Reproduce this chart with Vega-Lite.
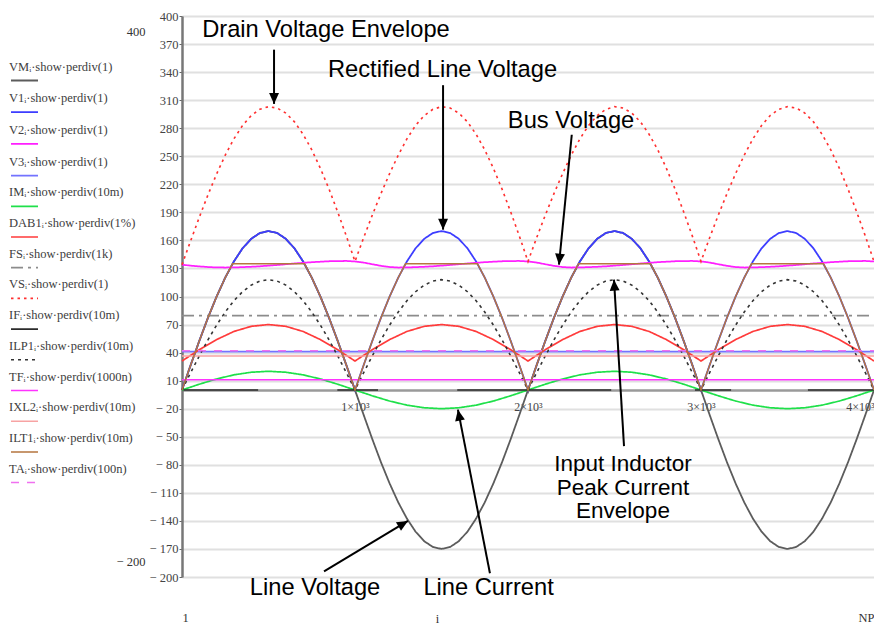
{
"$schema": "https://vega.github.io/schema/vega-lite/v6.json",
"width": 692, "height": 561,
"autosize": {"type": "none"},
"padding": {"left": 182, "top": 16, "right": 0, "bottom": 49},
"background": "white",
"config": {"view": {"stroke": null}},
"datasets": {
"curves": [
{"s":"VM","x":0,"y":0},{"s":"VM","x":50,"y":26.6},{"s":"VM","x":100,"y":52.5},{"s":"VM","x":150,"y":77.2},{"s":"VM","x":200,"y":99.9},{"s":"VM","x":250,"y":120.2},{"s":"VM","x":300,"y":137.5},{"s":"VM","x":350,"y":151.5},{"s":"VM","x":400,"y":161.7},{"s":"VM","x":450,"y":167.9},{"s":"VM","x":500,"y":170},{"s":"VM","x":550,"y":167.9},{"s":"VM","x":600,"y":161.7},{"s":"VM","x":650,"y":151.5},{"s":"VM","x":700,"y":137.5},{"s":"VM","x":750,"y":120.2},{"s":"VM","x":800,"y":99.9},{"s":"VM","x":850,"y":77.2},{"s":"VM","x":900,"y":52.5},{"s":"VM","x":950,"y":26.6},
{"s":"VM","x":1000,"y":0},{"s":"VM","x":1050,"y":-26.6},{"s":"VM","x":1100,"y":-52.5},{"s":"VM","x":1150,"y":-77.2},{"s":"VM","x":1200,"y":-99.9},{"s":"VM","x":1250,"y":-120.2},{"s":"VM","x":1300,"y":-137.5},{"s":"VM","x":1350,"y":-151.5},{"s":"VM","x":1400,"y":-161.7},{"s":"VM","x":1450,"y":-167.9},{"s":"VM","x":1500,"y":-170},{"s":"VM","x":1550,"y":-167.9},{"s":"VM","x":1600,"y":-161.7},{"s":"VM","x":1650,"y":-151.5},{"s":"VM","x":1700,"y":-137.5},{"s":"VM","x":1750,"y":-120.2},{"s":"VM","x":1800,"y":-99.9},{"s":"VM","x":1850,"y":-77.2},{"s":"VM","x":1900,"y":-52.5},{"s":"VM","x":1950,"y":-26.6},
{"s":"VM","x":2000,"y":0},{"s":"VM","x":2050,"y":26.6},{"s":"VM","x":2100,"y":52.5},{"s":"VM","x":2150,"y":77.2},{"s":"VM","x":2200,"y":99.9},{"s":"VM","x":2250,"y":120.2},{"s":"VM","x":2300,"y":137.5},{"s":"VM","x":2350,"y":151.5},{"s":"VM","x":2400,"y":161.7},{"s":"VM","x":2450,"y":167.9},{"s":"VM","x":2500,"y":170},{"s":"VM","x":2550,"y":167.9},{"s":"VM","x":2600,"y":161.7},{"s":"VM","x":2650,"y":151.5},{"s":"VM","x":2700,"y":137.5},{"s":"VM","x":2750,"y":120.2},{"s":"VM","x":2800,"y":99.9},{"s":"VM","x":2850,"y":77.2},{"s":"VM","x":2900,"y":52.5},{"s":"VM","x":2950,"y":26.6},
{"s":"VM","x":3000,"y":0},{"s":"VM","x":3050,"y":-26.6},{"s":"VM","x":3100,"y":-52.5},{"s":"VM","x":3150,"y":-77.2},{"s":"VM","x":3200,"y":-99.9},{"s":"VM","x":3250,"y":-120.2},{"s":"VM","x":3300,"y":-137.5},{"s":"VM","x":3350,"y":-151.5},{"s":"VM","x":3400,"y":-161.7},{"s":"VM","x":3450,"y":-167.9},{"s":"VM","x":3500,"y":-170},{"s":"VM","x":3550,"y":-167.9},{"s":"VM","x":3600,"y":-161.7},{"s":"VM","x":3650,"y":-151.5},{"s":"VM","x":3700,"y":-137.5},{"s":"VM","x":3750,"y":-120.2},{"s":"VM","x":3800,"y":-99.9},{"s":"VM","x":3850,"y":-77.2},{"s":"VM","x":3900,"y":-52.5},{"s":"VM","x":3950,"y":-26.6},{"s":"VM","x":4000,"y":0},

{"s":"V1","x":0,"y":0},{"s":"V1","x":50,"y":26.6},{"s":"V1","x":100,"y":52.5},{"s":"V1","x":150,"y":77.2},{"s":"V1","x":200,"y":99.9},{"s":"V1","x":250,"y":120.2},{"s":"V1","x":300,"y":137.5},{"s":"V1","x":350,"y":151.5},{"s":"V1","x":400,"y":161.7},{"s":"V1","x":450,"y":167.9},{"s":"V1","x":500,"y":170},{"s":"V1","x":550,"y":167.9},{"s":"V1","x":600,"y":161.7},{"s":"V1","x":650,"y":151.5},{"s":"V1","x":700,"y":137.5},{"s":"V1","x":750,"y":120.2},{"s":"V1","x":800,"y":99.9},{"s":"V1","x":850,"y":77.2},{"s":"V1","x":900,"y":52.5},{"s":"V1","x":950,"y":26.6},
{"s":"V1","x":1000,"y":0},{"s":"V1","x":1050,"y":26.6},{"s":"V1","x":1100,"y":52.5},{"s":"V1","x":1150,"y":77.2},{"s":"V1","x":1200,"y":99.9},{"s":"V1","x":1250,"y":120.2},{"s":"V1","x":1300,"y":137.5},{"s":"V1","x":1350,"y":151.5},{"s":"V1","x":1400,"y":161.7},{"s":"V1","x":1450,"y":167.9},{"s":"V1","x":1500,"y":170},{"s":"V1","x":1550,"y":167.9},{"s":"V1","x":1600,"y":161.7},{"s":"V1","x":1650,"y":151.5},{"s":"V1","x":1700,"y":137.5},{"s":"V1","x":1750,"y":120.2},{"s":"V1","x":1800,"y":99.9},{"s":"V1","x":1850,"y":77.2},{"s":"V1","x":1900,"y":52.5},{"s":"V1","x":1950,"y":26.6},
{"s":"V1","x":2000,"y":0},{"s":"V1","x":2050,"y":26.6},{"s":"V1","x":2100,"y":52.5},{"s":"V1","x":2150,"y":77.2},{"s":"V1","x":2200,"y":99.9},{"s":"V1","x":2250,"y":120.2},{"s":"V1","x":2300,"y":137.5},{"s":"V1","x":2350,"y":151.5},{"s":"V1","x":2400,"y":161.7},{"s":"V1","x":2450,"y":167.9},{"s":"V1","x":2500,"y":170},{"s":"V1","x":2550,"y":167.9},{"s":"V1","x":2600,"y":161.7},{"s":"V1","x":2650,"y":151.5},{"s":"V1","x":2700,"y":137.5},{"s":"V1","x":2750,"y":120.2},{"s":"V1","x":2800,"y":99.9},{"s":"V1","x":2850,"y":77.2},{"s":"V1","x":2900,"y":52.5},{"s":"V1","x":2950,"y":26.6},
{"s":"V1","x":3000,"y":0},{"s":"V1","x":3050,"y":26.6},{"s":"V1","x":3100,"y":52.5},{"s":"V1","x":3150,"y":77.2},{"s":"V1","x":3200,"y":99.9},{"s":"V1","x":3250,"y":120.2},{"s":"V1","x":3300,"y":137.5},{"s":"V1","x":3350,"y":151.5},{"s":"V1","x":3400,"y":161.7},{"s":"V1","x":3450,"y":167.9},{"s":"V1","x":3500,"y":170},{"s":"V1","x":3550,"y":167.9},{"s":"V1","x":3600,"y":161.7},{"s":"V1","x":3650,"y":151.5},{"s":"V1","x":3700,"y":137.5},{"s":"V1","x":3750,"y":120.2},{"s":"V1","x":3800,"y":99.9},{"s":"V1","x":3850,"y":77.2},{"s":"V1","x":3900,"y":52.5},{"s":"V1","x":3950,"y":26.6},{"s":"V1","x":4000,"y":0},

{"s":"V2","x":0,"y":134.0},{"s":"V2","x":50,"y":133.0},{"s":"V2","x":100,"y":132.2},{"s":"V2","x":150,"y":131.5},{"s":"V2","x":200,"y":131.1},{"s":"V2","x":250,"y":131.0},{"s":"V2","x":300,"y":131.1},{"s":"V2","x":350,"y":131.4},{"s":"V2","x":400,"y":131.8},{"s":"V2","x":450,"y":132.3},{"s":"V2","x":500,"y":133.0},{"s":"V2","x":550,"y":133.7},{"s":"V2","x":600,"y":134.5},{"s":"V2","x":650,"y":135.3},{"s":"V2","x":700,"y":136.0},{"s":"V2","x":750,"y":136.7},{"s":"V2","x":800,"y":137.2},{"s":"V2","x":850,"y":137.7},{"s":"V2","x":900,"y":137.9},{"s":"V2","x":950,"y":138.0},
{"s":"V2","x":1000,"y":137.5},{"s":"V2","x":1050,"y":136.3},{"s":"V2","x":1100,"y":134.5},{"s":"V2","x":1150,"y":132.8},{"s":"V2","x":1200,"y":131.5},{"s":"V2","x":1250,"y":131.0},{"s":"V2","x":1300,"y":131.1},{"s":"V2","x":1350,"y":131.4},{"s":"V2","x":1400,"y":131.8},{"s":"V2","x":1450,"y":132.3},{"s":"V2","x":1500,"y":133.0},{"s":"V2","x":1550,"y":133.7},{"s":"V2","x":1600,"y":134.5},{"s":"V2","x":1650,"y":135.3},{"s":"V2","x":1700,"y":136.0},{"s":"V2","x":1750,"y":136.7},{"s":"V2","x":1800,"y":137.2},{"s":"V2","x":1850,"y":137.7},{"s":"V2","x":1900,"y":137.9},{"s":"V2","x":1950,"y":138.0},
{"s":"V2","x":2000,"y":137.5},{"s":"V2","x":2050,"y":136.3},{"s":"V2","x":2100,"y":134.5},{"s":"V2","x":2150,"y":132.8},{"s":"V2","x":2200,"y":131.5},{"s":"V2","x":2250,"y":131.0},{"s":"V2","x":2300,"y":131.1},{"s":"V2","x":2350,"y":131.4},{"s":"V2","x":2400,"y":131.8},{"s":"V2","x":2450,"y":132.3},{"s":"V2","x":2500,"y":133.0},{"s":"V2","x":2550,"y":133.7},{"s":"V2","x":2600,"y":134.5},{"s":"V2","x":2650,"y":135.3},{"s":"V2","x":2700,"y":136.0},{"s":"V2","x":2750,"y":136.7},{"s":"V2","x":2800,"y":137.2},{"s":"V2","x":2850,"y":137.7},{"s":"V2","x":2900,"y":137.9},{"s":"V2","x":2950,"y":138.0},
{"s":"V2","x":3000,"y":137.5},{"s":"V2","x":3050,"y":136.3},{"s":"V2","x":3100,"y":134.5},{"s":"V2","x":3150,"y":132.8},{"s":"V2","x":3200,"y":131.5},{"s":"V2","x":3250,"y":131.0},{"s":"V2","x":3300,"y":131.1},{"s":"V2","x":3350,"y":131.4},{"s":"V2","x":3400,"y":131.8},{"s":"V2","x":3450,"y":132.3},{"s":"V2","x":3500,"y":133.0},{"s":"V2","x":3550,"y":133.7},{"s":"V2","x":3600,"y":134.5},{"s":"V2","x":3650,"y":135.3},{"s":"V2","x":3700,"y":136.0},{"s":"V2","x":3750,"y":136.7},{"s":"V2","x":3800,"y":137.2},{"s":"V2","x":3850,"y":137.7},{"s":"V2","x":3900,"y":137.9},{"s":"V2","x":3950,"y":138.0},{"s":"V2","x":4000,"y":137.5},

{"s":"V3","x":0,"y":41},{"s":"V3","x":4000,"y":41},

{"s":"IM","x":0,"y":0},{"s":"IM","x":100,"y":6.2},{"s":"IM","x":200,"y":11.8},{"s":"IM","x":300,"y":16.2},{"s":"IM","x":400,"y":19.0},{"s":"IM","x":500,"y":20},{"s":"IM","x":600,"y":19.0},{"s":"IM","x":700,"y":16.2},{"s":"IM","x":800,"y":11.8},{"s":"IM","x":900,"y":6.2},
{"s":"IM","x":1000,"y":0},{"s":"IM","x":1100,"y":-6.2},{"s":"IM","x":1200,"y":-11.8},{"s":"IM","x":1300,"y":-16.2},{"s":"IM","x":1400,"y":-19.0},{"s":"IM","x":1500,"y":-20},{"s":"IM","x":1600,"y":-19.0},{"s":"IM","x":1700,"y":-16.2},{"s":"IM","x":1800,"y":-11.8},{"s":"IM","x":1900,"y":-6.2},
{"s":"IM","x":2000,"y":0},{"s":"IM","x":2100,"y":6.2},{"s":"IM","x":2200,"y":11.8},{"s":"IM","x":2300,"y":16.2},{"s":"IM","x":2400,"y":19.0},{"s":"IM","x":2500,"y":20},{"s":"IM","x":2600,"y":19.0},{"s":"IM","x":2700,"y":16.2},{"s":"IM","x":2800,"y":11.8},{"s":"IM","x":2900,"y":6.2},
{"s":"IM","x":3000,"y":0},{"s":"IM","x":3100,"y":-6.2},{"s":"IM","x":3200,"y":-11.8},{"s":"IM","x":3300,"y":-16.2},{"s":"IM","x":3400,"y":-19.0},{"s":"IM","x":3500,"y":-20},{"s":"IM","x":3600,"y":-19.0},{"s":"IM","x":3700,"y":-16.2},{"s":"IM","x":3800,"y":-11.8},{"s":"IM","x":3900,"y":-6.2},{"s":"IM","x":4000,"y":0},

{"s":"DAB1","x":0,"y":31},{"s":"DAB1","x":100,"y":43.1},{"s":"DAB1","x":200,"y":53.9},{"s":"DAB1","x":300,"y":62.6},{"s":"DAB1","x":400,"y":68.1},{"s":"DAB1","x":500,"y":70},{"s":"DAB1","x":600,"y":68.1},{"s":"DAB1","x":700,"y":62.6},{"s":"DAB1","x":800,"y":53.9},{"s":"DAB1","x":900,"y":43.1},
{"s":"DAB1","x":1000,"y":31},{"s":"DAB1","x":1100,"y":43.1},{"s":"DAB1","x":1200,"y":53.9},{"s":"DAB1","x":1300,"y":62.6},{"s":"DAB1","x":1400,"y":68.1},{"s":"DAB1","x":1500,"y":70},{"s":"DAB1","x":1600,"y":68.1},{"s":"DAB1","x":1700,"y":62.6},{"s":"DAB1","x":1800,"y":53.9},{"s":"DAB1","x":1900,"y":43.1},
{"s":"DAB1","x":2000,"y":31},{"s":"DAB1","x":2100,"y":43.1},{"s":"DAB1","x":2200,"y":53.9},{"s":"DAB1","x":2300,"y":62.6},{"s":"DAB1","x":2400,"y":68.1},{"s":"DAB1","x":2500,"y":70},{"s":"DAB1","x":2600,"y":68.1},{"s":"DAB1","x":2700,"y":62.6},{"s":"DAB1","x":2800,"y":53.9},{"s":"DAB1","x":2900,"y":43.1},
{"s":"DAB1","x":3000,"y":31},{"s":"DAB1","x":3100,"y":43.1},{"s":"DAB1","x":3200,"y":53.9},{"s":"DAB1","x":3300,"y":62.6},{"s":"DAB1","x":3400,"y":68.1},{"s":"DAB1","x":3500,"y":70},{"s":"DAB1","x":3600,"y":68.1},{"s":"DAB1","x":3700,"y":62.6},{"s":"DAB1","x":3800,"y":53.9},{"s":"DAB1","x":3900,"y":43.1},{"s":"DAB1","x":4000,"y":31},

{"s":"FS","x":0,"y":79.5},{"s":"FS","x":4000,"y":79.5},

{"s":"VS","x":0,"y":134.0},{"s":"VS","x":50,"y":159.6},{"s":"VS","x":100,"y":184.7},{"s":"VS","x":150,"y":208.7},{"s":"VS","x":200,"y":231.0},{"s":"VS","x":250,"y":251.2},{"s":"VS","x":300,"y":268.6},{"s":"VS","x":350,"y":282.9},{"s":"VS","x":400,"y":293.5},{"s":"VS","x":450,"y":300.2},{"s":"VS","x":500,"y":303.0},{"s":"VS","x":550,"y":301.6},{"s":"VS","x":600,"y":296.2},{"s":"VS","x":650,"y":286.8},{"s":"VS","x":700,"y":273.5},{"s":"VS","x":750,"y":256.9},{"s":"VS","x":800,"y":237.1},{"s":"VS","x":850,"y":214.9},{"s":"VS","x":900,"y":190.4},{"s":"VS","x":950,"y":164.6},
{"s":"VS","x":1000,"y":137.5},{"s":"VS","x":1050,"y":162.9},{"s":"VS","x":1100,"y":187.0},{"s":"VS","x":1150,"y":210.0},{"s":"VS","x":1200,"y":231.4},{"s":"VS","x":1250,"y":251.2},{"s":"VS","x":1300,"y":268.6},{"s":"VS","x":1350,"y":282.9},{"s":"VS","x":1400,"y":293.5},{"s":"VS","x":1450,"y":300.2},{"s":"VS","x":1500,"y":303.0},{"s":"VS","x":1550,"y":301.6},{"s":"VS","x":1600,"y":296.2},{"s":"VS","x":1650,"y":286.8},{"s":"VS","x":1700,"y":273.5},{"s":"VS","x":1750,"y":256.9},{"s":"VS","x":1800,"y":237.1},{"s":"VS","x":1850,"y":214.9},{"s":"VS","x":1900,"y":190.4},{"s":"VS","x":1950,"y":164.6},
{"s":"VS","x":2000,"y":137.5},{"s":"VS","x":2050,"y":162.9},{"s":"VS","x":2100,"y":187.0},{"s":"VS","x":2150,"y":210.0},{"s":"VS","x":2200,"y":231.4},{"s":"VS","x":2250,"y":251.2},{"s":"VS","x":2300,"y":268.6},{"s":"VS","x":2350,"y":282.9},{"s":"VS","x":2400,"y":293.5},{"s":"VS","x":2450,"y":300.2},{"s":"VS","x":2500,"y":303.0},{"s":"VS","x":2550,"y":301.6},{"s":"VS","x":2600,"y":296.2},{"s":"VS","x":2650,"y":286.8},{"s":"VS","x":2700,"y":273.5},{"s":"VS","x":2750,"y":256.9},{"s":"VS","x":2800,"y":237.1},{"s":"VS","x":2850,"y":214.9},{"s":"VS","x":2900,"y":190.4},{"s":"VS","x":2950,"y":164.6},
{"s":"VS","x":3000,"y":137.5},{"s":"VS","x":3050,"y":162.9},{"s":"VS","x":3100,"y":187.0},{"s":"VS","x":3150,"y":210.0},{"s":"VS","x":3200,"y":231.4},{"s":"VS","x":3250,"y":251.2},{"s":"VS","x":3300,"y":268.6},{"s":"VS","x":3350,"y":282.9},{"s":"VS","x":3400,"y":293.5},{"s":"VS","x":3450,"y":300.2},{"s":"VS","x":3500,"y":303.0},{"s":"VS","x":3550,"y":301.6},{"s":"VS","x":3600,"y":296.2},{"s":"VS","x":3650,"y":286.8},{"s":"VS","x":3700,"y":273.5},{"s":"VS","x":3750,"y":256.9},{"s":"VS","x":3800,"y":237.1},{"s":"VS","x":3850,"y":214.9},{"s":"VS","x":3900,"y":190.4},{"s":"VS","x":3950,"y":164.6},{"s":"VS","x":4000,"y":137.5},

{"s":"IF","g":1,"x":9,"y":0},{"s":"IF","g":1,"x":440,"y":0},{"s":"IF","g":2,"x":898,"y":0},{"s":"IF","g":2,"x":1133,"y":0},{"s":"IF","g":3,"x":1591,"y":0},{"s":"IF","g":3,"x":2481,"y":0},{"s":"IF","g":4,"x":2965,"y":0},{"s":"IF","g":4,"x":3174,"y":0},{"s":"IF","g":5,"x":3618,"y":0},{"s":"IF","g":5,"x":4000,"y":0},

{"s":"ILP1","x":0,"y":0},{"s":"ILP1","x":50,"y":18.5},{"s":"ILP1","x":100,"y":36.5},{"s":"ILP1","x":150,"y":53.6},{"s":"ILP1","x":200,"y":69.4},{"s":"ILP1","x":250,"y":83.4},{"s":"ILP1","x":300,"y":95.5},{"s":"ILP1","x":350,"y":105.1},{"s":"ILP1","x":400,"y":112.2},{"s":"ILP1","x":450,"y":116.5},{"s":"ILP1","x":500,"y":118},{"s":"ILP1","x":550,"y":116.5},{"s":"ILP1","x":600,"y":112.2},{"s":"ILP1","x":650,"y":105.1},{"s":"ILP1","x":700,"y":95.5},{"s":"ILP1","x":750,"y":83.4},{"s":"ILP1","x":800,"y":69.4},{"s":"ILP1","x":850,"y":53.6},{"s":"ILP1","x":900,"y":36.5},{"s":"ILP1","x":950,"y":18.5},
{"s":"ILP1","x":1000,"y":0},{"s":"ILP1","x":1050,"y":18.5},{"s":"ILP1","x":1100,"y":36.5},{"s":"ILP1","x":1150,"y":53.6},{"s":"ILP1","x":1200,"y":69.4},{"s":"ILP1","x":1250,"y":83.4},{"s":"ILP1","x":1300,"y":95.5},{"s":"ILP1","x":1350,"y":105.1},{"s":"ILP1","x":1400,"y":112.2},{"s":"ILP1","x":1450,"y":116.5},{"s":"ILP1","x":1500,"y":118},{"s":"ILP1","x":1550,"y":116.5},{"s":"ILP1","x":1600,"y":112.2},{"s":"ILP1","x":1650,"y":105.1},{"s":"ILP1","x":1700,"y":95.5},{"s":"ILP1","x":1750,"y":83.4},{"s":"ILP1","x":1800,"y":69.4},{"s":"ILP1","x":1850,"y":53.6},{"s":"ILP1","x":1900,"y":36.5},{"s":"ILP1","x":1950,"y":18.5},
{"s":"ILP1","x":2000,"y":0},{"s":"ILP1","x":2050,"y":18.5},{"s":"ILP1","x":2100,"y":36.5},{"s":"ILP1","x":2150,"y":53.6},{"s":"ILP1","x":2200,"y":69.4},{"s":"ILP1","x":2250,"y":83.4},{"s":"ILP1","x":2300,"y":95.5},{"s":"ILP1","x":2350,"y":105.1},{"s":"ILP1","x":2400,"y":112.2},{"s":"ILP1","x":2450,"y":116.5},{"s":"ILP1","x":2500,"y":118},{"s":"ILP1","x":2550,"y":116.5},{"s":"ILP1","x":2600,"y":112.2},{"s":"ILP1","x":2650,"y":105.1},{"s":"ILP1","x":2700,"y":95.5},{"s":"ILP1","x":2750,"y":83.4},{"s":"ILP1","x":2800,"y":69.4},{"s":"ILP1","x":2850,"y":53.6},{"s":"ILP1","x":2900,"y":36.5},{"s":"ILP1","x":2950,"y":18.5},
{"s":"ILP1","x":3000,"y":0},{"s":"ILP1","x":3050,"y":18.5},{"s":"ILP1","x":3100,"y":36.5},{"s":"ILP1","x":3150,"y":53.6},{"s":"ILP1","x":3200,"y":69.4},{"s":"ILP1","x":3250,"y":83.4},{"s":"ILP1","x":3300,"y":95.5},{"s":"ILP1","x":3350,"y":105.1},{"s":"ILP1","x":3400,"y":112.2},{"s":"ILP1","x":3450,"y":116.5},{"s":"ILP1","x":3500,"y":118},{"s":"ILP1","x":3550,"y":116.5},{"s":"ILP1","x":3600,"y":112.2},{"s":"ILP1","x":3650,"y":105.1},{"s":"ILP1","x":3700,"y":95.5},{"s":"ILP1","x":3750,"y":83.4},{"s":"ILP1","x":3800,"y":69.4},{"s":"ILP1","x":3850,"y":53.6},{"s":"ILP1","x":3900,"y":36.5},{"s":"ILP1","x":3950,"y":18.5},{"s":"ILP1","x":4000,"y":0},

{"s":"TF","x":0,"y":11},{"s":"TF","x":4000,"y":11},
{"s":"IXL2","x":0,"y":36.3},{"s":"IXL2","x":4000,"y":36.3},

{"s":"ILT1","x":0,"y":0},{"s":"ILT1","x":50,"y":26.6},{"s":"ILT1","x":100,"y":52.5},{"s":"ILT1","x":150,"y":77.2},{"s":"ILT1","x":200,"y":99.9},{"s":"ILT1","x":250,"y":120.2},{"s":"ILT1","x":292,"y":135},{"s":"ILT1","x":708,"y":135},{"s":"ILT1","x":750,"y":120.2},{"s":"ILT1","x":800,"y":99.9},{"s":"ILT1","x":850,"y":77.2},{"s":"ILT1","x":900,"y":52.5},{"s":"ILT1","x":950,"y":26.6},
{"s":"ILT1","x":1000,"y":0},{"s":"ILT1","x":1050,"y":26.6},{"s":"ILT1","x":1100,"y":52.5},{"s":"ILT1","x":1150,"y":77.2},{"s":"ILT1","x":1200,"y":99.9},{"s":"ILT1","x":1250,"y":120.2},{"s":"ILT1","x":1292,"y":135},{"s":"ILT1","x":1708,"y":135},{"s":"ILT1","x":1750,"y":120.2},{"s":"ILT1","x":1800,"y":99.9},{"s":"ILT1","x":1850,"y":77.2},{"s":"ILT1","x":1900,"y":52.5},{"s":"ILT1","x":1950,"y":26.6},
{"s":"ILT1","x":2000,"y":0},{"s":"ILT1","x":2050,"y":26.6},{"s":"ILT1","x":2100,"y":52.5},{"s":"ILT1","x":2150,"y":77.2},{"s":"ILT1","x":2200,"y":99.9},{"s":"ILT1","x":2250,"y":120.2},{"s":"ILT1","x":2292,"y":135},{"s":"ILT1","x":2708,"y":135},{"s":"ILT1","x":2750,"y":120.2},{"s":"ILT1","x":2800,"y":99.9},{"s":"ILT1","x":2850,"y":77.2},{"s":"ILT1","x":2900,"y":52.5},{"s":"ILT1","x":2950,"y":26.6},
{"s":"ILT1","x":3000,"y":0},{"s":"ILT1","x":3050,"y":26.6},{"s":"ILT1","x":3100,"y":52.5},{"s":"ILT1","x":3150,"y":77.2},{"s":"ILT1","x":3200,"y":99.9},{"s":"ILT1","x":3250,"y":120.2},{"s":"ILT1","x":3292,"y":135},{"s":"ILT1","x":3708,"y":135},{"s":"ILT1","x":3750,"y":120.2},{"s":"ILT1","x":3800,"y":99.9},{"s":"ILT1","x":3850,"y":77.2},{"s":"ILT1","x":3900,"y":52.5},{"s":"ILT1","x":3950,"y":26.6},{"s":"ILT1","x":4000,"y":0},

{"s":"TA","x":0,"y":42},{"s":"TA","x":4000,"y":42}
],
"notes": [
{"t":"Drain Voltage Envelope","x":832,"y":385},
{"t":"Rectified Line Voltage","x":1506,"y":342},
{"t":"Bus Voltage","x":2249,"y":288},
{"t":"Line Voltage","x":769,"y":-212},
{"t":"Line Current","x":1772,"y":-212}
],
"block": [
{"t":"Input Inductor\nPeak Current\nEnvelope","x":2549,"y":-79.5}
],
"arrows": [
{"a":"drain","x1":532,"y1":364,"x2":532,"y2":306},
{"a":"rect","x1":1509,"y1":326,"x2":1509,"y2":171.5},
{"a":"bus","x1":2253,"y1":273,"x2":2179,"y2":134},
{"a":"ind","x1":2555,"y1":-60,"x2":2497,"y2":118},
{"a":"lv","x1":821,"y1":-194,"x2":1306,"y2":-140},
{"a":"lc","x1":1780,"y1":-196,"x2":1595,"y2":-21}
]
},
"layer": [
{
"data": {"name": "curves"},
"encoding": {
"x": {"field": "x", "type": "quantitative", "scale": {"domain": [0, 4000], "nice": false, "zero": false},
 "axis": {"orient": "bottom", "offset": -187, "values": [1000, 2000, 3000, 4000], "labelExpr": "(datum.value/1000) + '×10³'", "grid": false, "domainColor": "#9a9a9a", "domainWidth": 2.5, "tickColor": "#888", "tickSize": 3, "labelFont": "Liberation Serif", "labelFontSize": 12, "labelColor": "#444", "labelPadding": 8, "title": null}},
"y": {"field": "y", "type": "quantitative", "scale": {"domain": [-200, 400], "nice": false, "zero": false},
 "axis": {"values": [400, 370, 340, 310, 280, 250, 220, 190, 160, 130, 100, 70, 40, 10, -20, -50, -80, -110, -140, -170, -200], "labelExpr": "datum.value < 0 ? '− ' + (-datum.value) : '' + datum.value", "grid": true, "gridColor": "#e0e0e0", "gridWidth": 2, "domainColor": "#777", "domainWidth": 2.5, "tickColor": "#666", "tickSize": 3, "labelPadding": 1, "labelFont": "Liberation Serif", "labelFontSize": 12.5, "labelColor": "#444", "title": null}},
"color": {"field": "s", "type": "nominal",
 "scale": {"domain": ["VM","V1","V2","V3","IM","DAB1","FS","VS","IF","ILP1","TF","IXL2","ILT1","TA"],
  "range": ["#5c5c5c","#3d3dff","#ff1fff","#7373ff","#1fe04a","#ff3b3b","#8c8c8c","#ff3030","#2b2b2b","#333333","#ff33ff","#f7a3a3","#b5763f","#f070f0"]},
 "legend": {"title": null, "orient": "none", "legendX": -172, "legendY": 50, "symbolType": "stroke", "symbolSize": 729, "labelFont": "Liberation Serif", "labelFontSize": 12.5, "labelColor": "#404040", "labelOffset": -30, "rowPadding": 6.7, "labelLimit": 250,
  "labelExpr": "datum.label + 'ᵢ·show·perdiv' + {'VM':'(1)','V1':'(1)','V2':'(1)','V3':'(1)','IM':'(10m)','DAB1':'(1%)','FS':'(1k)','VS':'(1)','IF':'(10m)','ILP1':'(10m)','TF':'(1000n)','IXL2':'(10m)','ILT1':'(10m)','TA':'(100n)'}[datum.label]",
  "encode": {"labels": {"update": {"dy": {"value": -14}}}}}},
"strokeDash": {"field": "s", "type": "nominal",
 "scale": {"domain": ["VM","V1","V2","V3","IM","DAB1","FS","VS","IF","ILP1","TF","IXL2","ILT1","TA"],
  "range": [[1,0],[1,0],[1,0],[1,0],[1,0],[1,0],[12,5,3,5],[2.5,4],[1,0],[3,4],[1,0],[1,0],[1,0],[8,8]]}},
"strokeWidth": {"field": "s", "type": "nominal",
 "scale": {"domain": ["VM","V1","V2","V3","IM","DAB1","FS","VS","IF","ILP1","TF","IXL2","ILT1","TA"],
  "range": [1.8,1.5,4.5,2.5,2.5,1.5,2,2.8,3.5,3,3,3.5,2,2.5]}},
"detail": {"field": "g", "type": "nominal"}
},
"layer": [
{"transform": [{"filter": "datum.s == 'VM'"}], "mark": "line"},
{"transform": [{"filter": "datum.s == 'V1'"}], "mark": "line"},
{"transform": [{"filter": "datum.s == 'V2'"}], "mark": "line"},
{"transform": [{"filter": "datum.s == 'V3'"}], "mark": "line"},
{"transform": [{"filter": "datum.s == 'IM'"}], "mark": "line"},
{"transform": [{"filter": "datum.s == 'DAB1'"}], "mark": "line"},
{"transform": [{"filter": "datum.s == 'FS'"}], "mark": "line"},
{"transform": [{"filter": "datum.s == 'VS'"}], "mark": "line"},
{"transform": [{"filter": "datum.s == 'IF'"}], "mark": "line"},
{"transform": [{"filter": "datum.s == 'ILP1'"}], "mark": "line"},
{"transform": [{"filter": "datum.s == 'TF'"}], "mark": "line"},
{"transform": [{"filter": "datum.s == 'IXL2'"}], "mark": "line"},
{"transform": [{"filter": "datum.s == 'ILT1'"}], "mark": "line"},
{"transform": [{"filter": "datum.s == 'TA'"}], "mark": "line"}
]
},
{
"data": {"name": "notes"},
"mark": {"type": "text", "font": "Liberation Sans", "fontSize": 23.7, "color": "black", "align": "center", "baseline": "middle"},
"encoding": {
"x": {"field": "x", "type": "quantitative", "scale": {"domain": [0, 4000], "nice": false, "zero": false},
 "axis": {"orient": "bottom", "values": [0, 4000], "labelExpr": "datum.value == 0 ? '1' : 'NP'", "labelFlush": true, "domain": false, "ticks": false, "grid": false, "labelPadding": 34, "labelFont": "Liberation Serif", "labelFontSize": 12.5, "labelColor": "#333", "title": "i", "titleFont": "Liberation Serif", "titleFontWeight": "normal", "titleFontSize": 12.5, "titleColor": "#333", "titleX": 255, "titleY": 41, "titleBaseline": "middle"}},
"y": {"field": "y", "type": "quantitative", "scale": {"domain": [-200, 400], "nice": false, "zero": false},
 "axis": {"orient": "left", "offset": 33, "values": [400, -200], "labelExpr": "datum.value < 0 ? '− 200' : '400'", "labelFlush": true, "labelFlushOffset": -9, "domain": false, "ticks": false, "grid": false, "labelPadding": 4, "labelFont": "Liberation Serif", "labelFontSize": 12.5, "labelColor": "#333", "title": null}},
"text": {"field": "t"}
}
},
{
"data": {"name": "block"},
"mark": {"type": "text", "font": "Liberation Sans", "fontSize": 22.5, "color": "black", "align": "center", "baseline": "middle", "lineBreak": "\n", "lineHeight": 23.5},
"encoding": {
"x": {"field": "x", "type": "quantitative", "axis": null},
"y": {"field": "y", "type": "quantitative", "axis": null},
"text": {"field": "t"}
}
},
{
"data": {"name": "arrows"},
"mark": {"type": "rule", "color": "black", "strokeWidth": 2},
"encoding": {
"x": {"field": "x1", "type": "quantitative", "axis": null},
"y": {"field": "y1", "type": "quantitative", "axis": null},
"x2": {"field": "x2"},
"y2": {"field": "y2"}
}
},
{
"data": {"name": "arrows"},
"transform": [{"filter": "datum.a == 'drain' || datum.a == 'rect'"}],
"mark": {"type": "point", "shape": "M0,0L-0.45,-1L0.45,-1Z", "filled": true, "color": "black", "opacity": 1, "size": 484, "angle": 0},
"encoding": {"x": {"field": "x2", "type": "quantitative", "axis": null}, "y": {"field": "y2", "type": "quantitative", "axis": null}}
},
{
"data": {"name": "arrows"},
"transform": [{"filter": "datum.a == 'bus'"}],
"mark": {"type": "point", "shape": "M0,0L-0.45,-1L0.45,-1Z", "filled": true, "color": "black", "opacity": 1, "size": 484, "angle": 5.6},
"encoding": {"x": {"field": "x2", "type": "quantitative", "axis": null}, "y": {"field": "y2", "type": "quantitative", "axis": null}}
},
{
"data": {"name": "arrows"},
"transform": [{"filter": "datum.a == 'ind'"}],
"mark": {"type": "point", "shape": "M0,0L-0.45,-1L0.45,-1Z", "filled": true, "color": "black", "opacity": 1, "size": 484, "angle": 176.6},
"encoding": {"x": {"field": "x2", "type": "quantitative", "axis": null}, "y": {"field": "y2", "type": "quantitative", "axis": null}}
},
{
"data": {"name": "arrows"},
"transform": [{"filter": "datum.a == 'lv'"}],
"mark": {"type": "point", "shape": "M0,0L-0.45,-1L0.45,-1Z", "filled": true, "color": "black", "opacity": 1, "size": 484, "angle": 239.2},
"encoding": {"x": {"field": "x2", "type": "quantitative", "axis": null}, "y": {"field": "y2", "type": "quantitative", "axis": null}}
},
{
"data": {"name": "arrows"},
"transform": [{"filter": "datum.a == 'lc'"}],
"mark": {"type": "point", "shape": "M0,0L-0.45,-1L0.45,-1Z", "filled": true, "color": "black", "opacity": 1, "size": 484, "angle": 169},
"encoding": {"x": {"field": "x2", "type": "quantitative", "axis": null}, "y": {"field": "y2", "type": "quantitative", "axis": null}}
}
],
"resolve": {"axis": {"x": "independent", "y": "independent"}}
}
